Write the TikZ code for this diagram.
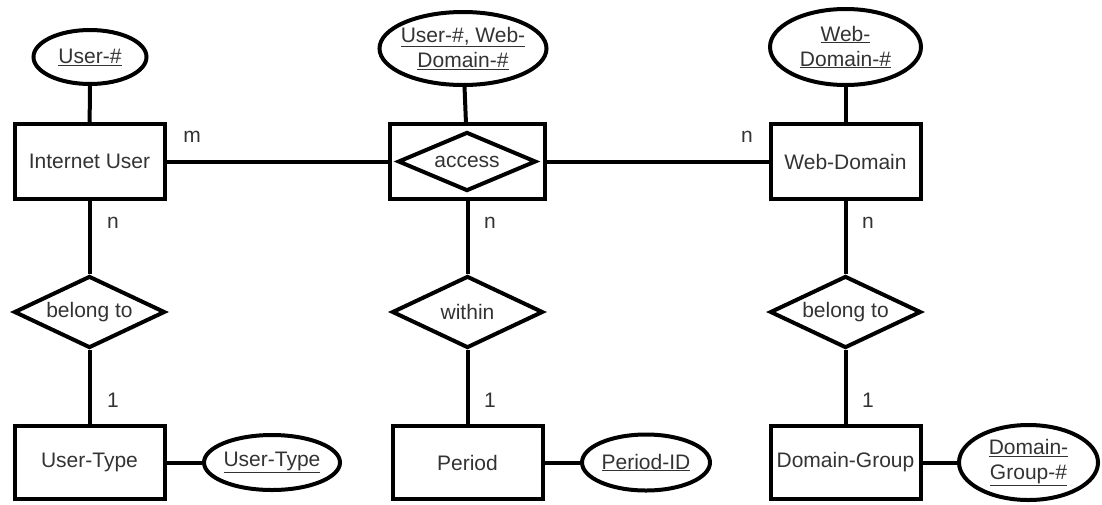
\documentclass[tikz,border=0pt]{standalone}
\usepackage{fontspec}
\setmainfont{Liberation Sans}
\usetikzlibrary{shapes.geometric, positioning}

\tikzset{
    entity/.style={draw, rectangle, line width=4pt, inner sep=0pt,
        minimum width=150pt, minimum height=75pt},
    relship/.style={draw, diamond, shape aspect=2, line width=4pt, inner sep=0pt,
        minimum width=151pt, minimum height=72pt},
    keyattr/.style={draw, ellipse, line width=4pt, inner sep=-20pt, align=center},
    card/.style={inner sep=0pt},
    conn/.style={line width=4pt}
}

\begin{document}
\begin{tikzpicture}[x=1pt, y=-1pt, font=\fontsize{21}{25}\selectfont, text=black!80]
\useasboundingbox (0,0) rectangle (1102,504);

% Entities
\node[entity] (iuser) at (89.5,161.5) {Internet User};
\node[entity] (webdom) at (845.5,161.5) {Web-Domain};
\node[entity, minimum height=73pt] (utype) at (89.5,462.5) {User-Type};
\node[entity, minimum height=73pt] (period) at (467.5,462.5) {Period};
\node[entity, minimum height=73pt] (dgroup) at (845.5,462.5) {Domain-Group};

% Aggregated relationship
\node[entity, minimum width=155pt] (accessbox) at (467.5,161.5) {};
\node[relship, minimum width=138pt, minimum height=59pt] (access) at (467,161.5) {access};

% Relationships
\node[relship] (belongu) at (89.5,312) {belong to};
\node[relship] (within) at (467.5,312) {within};
\node[relship] (belongd) at (845.5,312) {belong to};

% Keys
\node[keyattr, minimum width=113pt, minimum height=54pt] (userkey) at (90,57) {\underline{User-\#}};
\node[keyattr, minimum width=167pt, minimum height=73pt] (accesskey) at (463,48.5)
    {\underline{User-\#, Web-}\\\underline{Domain-\#}};
\node[keyattr, minimum width=151pt, minimum height=76pt] (webkey) at (845.5,47)
    {\underline{Web-}\\\underline{Domain-\#}};
\node[keyattr, minimum width=136pt, minimum height=55pt] (utkey) at (272,462.5) {\underline{User-Type}};
\node[keyattr, minimum width=128pt, minimum height=56pt] (periodkey) at (646,462.5) {\underline{Period-ID}};
\node[keyattr, minimum width=139pt, minimum height=75pt] (dgkey) at (1028.5,462.5)
    {\underline{Domain-}\\\underline{Group-\#}};

% Connectors
\foreach \a/\b in {userkey/iuser, accesskey/accessbox, webkey/webdom,
                   iuser/accessbox, accessbox/webdom,
                   iuser/belongu, belongu/utype, utype/utkey,
                   accessbox/within, within/period, period/periodkey,
                   webdom/belongd, belongd/dgroup, dgroup/dgkey}
    \draw[conn] (\a) -- (\b);

% Cardinalities
\foreach \x/\y/\c [count=\i] in {192/137/m, 113/223/n, 490/223/n, 747/137/n,
                                 868/223/n, 113/400/1, 490/400/1, 868/400/1}
    \node[card] (card\i) at (\x,\y) {\c};
\end{tikzpicture}
\end{document}
